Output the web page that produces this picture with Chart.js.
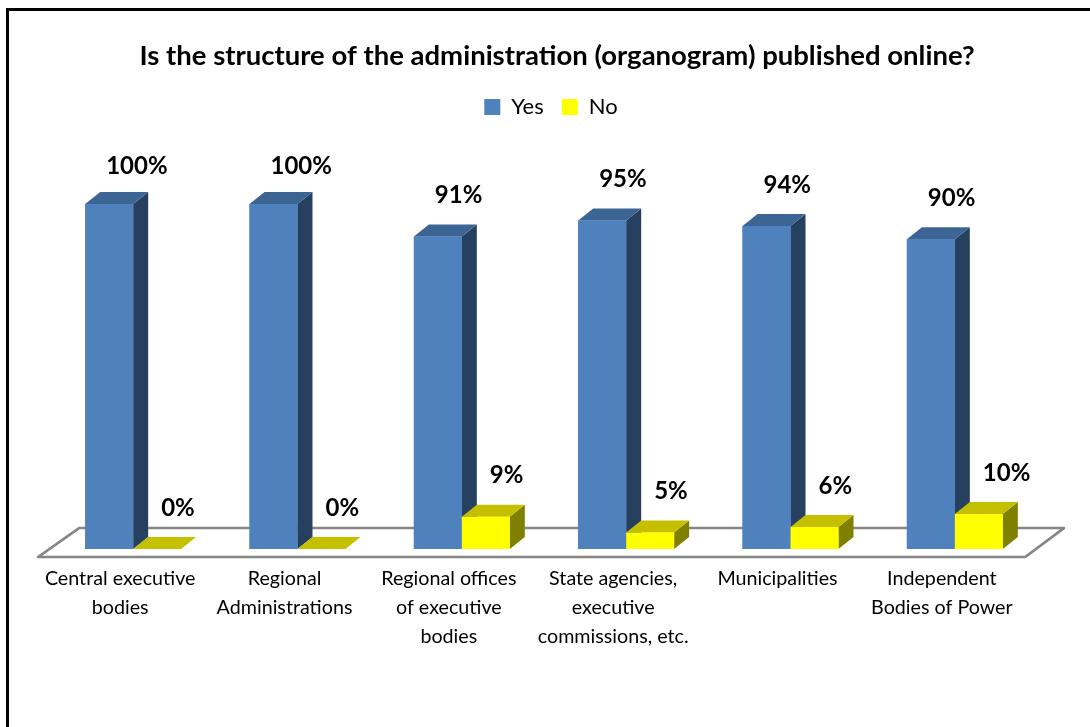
<!DOCTYPE html>
<html>
<head>
<meta charset="utf-8">
<title>Organogram published online</title>
<script src="https://cdn.jsdelivr.net/npm/chart.js@4"></script>
<style>
	html, body { margin: 0; padding: 0; background: #fff; }
	#frame { position: absolute; left: 6px; top: 8px; width: 1084px; height: 719px; box-sizing: border-box; border-left: 3px solid #000; border-top: 3px solid #000; }
	#chart { position: absolute; left: 0; top: 0; }
</style>
</head>
<body>
<div id="frame"></div>
<canvas id="chart" width="1090" height="727"></canvas>
<script>
const categories = [
	["Central executive", "bodies"],
	["Regional", "Administrations"],
	["Regional offices", "of executive", "bodies"],
	["State agencies,", "executive", "commissions, etc."],
	["Municipalities"],
	["Independent", "Bodies of Power"],
];
const yesValues = [100, 100, 90.6, 95.2, 93.6, 89.8];
const noValues = [0, 0, 9.4, 4.8, 6.4, 10.2];

const FONT = "Lato, Carlito, sans-serif";
const DEPTH_X = 15, DEPTH_Y = 12;

// front colour is on the dataset, these are the two shaded faces
const faces = [
	{top: "#3d6594", side: "#27405f", labelX: -3},
	{top: "#c4c000", side: "#808000", labelX: 4},
];

function poly(ctx, pts, fill) {
	ctx.beginPath();
	pts.forEach((p, i) => i ? ctx.lineTo(p[0], p[1]) : ctx.moveTo(p[0], p[1]));
	ctx.closePath();
	ctx.fillStyle = fill;
	ctx.fill();
}

const floorPlugin = {
	id: "floor",
	beforeDatasetsDraw(chart) {
		const {left, right, bottom} = chart.chartArea;
		const ctx = chart.ctx;
		ctx.save();
		ctx.beginPath();
		ctx.moveTo(left - 13, bottom + 8);
		ctx.lineTo(left + 28, bottom - 21);
		ctx.lineTo(right + 27, bottom - 21);
		ctx.lineTo(right - 12, bottom + 8);
		ctx.closePath();
		ctx.strokeStyle = "#868686";
		ctx.lineWidth = 2.5;
		ctx.lineJoin = "round";
		ctx.stroke();
		ctx.restore();
	}
};

const boxPlugin = {
	id: "box3d",
	afterDatasetsDraw(chart) {
		const ctx = chart.ctx;
		chart.data.datasets.forEach((ds, i) => {
			chart.getDatasetMeta(i).data.forEach(bar => {
				const l = bar.x - bar.width / 2, r = bar.x + bar.width / 2;
				poly(ctx, [[r, bar.y], [r + DEPTH_X, bar.y - DEPTH_Y], [r + DEPTH_X, bar.base - DEPTH_Y], [r, bar.base]], faces[i].side);
				poly(ctx, [[l, bar.y], [l + DEPTH_X, bar.y - DEPTH_Y], [r + DEPTH_X, bar.y - DEPTH_Y], [r, bar.y]], faces[i].top);
				bar.draw(ctx);
			});
		});
		// value labels sit up and right of each box
		ctx.save();
		ctx.font = "bold 24px " + FONT;
		ctx.fillStyle = "#000";
		ctx.textAlign = "left";
		ctx.textBaseline = "middle";
		chart.data.datasets.forEach((ds, i) => {
			chart.getDatasetMeta(i).data.forEach((bar, j) => {
				const lift = ds.data[j] === 100 ? 38 : 41;
				ctx.fillText(Math.round(ds.data[j]) + "%", bar.x + faces[i].labelX, bar.y - lift);
			});
		});
		ctx.restore();
	},
	afterLayout(chart) {
		// title and legend are a bit right of the plot centre in the original
		chart.titleBlock.left += 13;
		chart.titleBlock.right += 13;
		chart.legend.left += 7;
		chart.legend.right += 7;
	}
};

new Chart(document.getElementById("chart"), {
	type: "bar",
	data: {
		labels: categories,
		datasets: [
			{label: "Yes", data: yesValues, backgroundColor: "#4f81bd"},
			{label: "No", data: noValues, backgroundColor: "#ffff00"},
		],
	},
	options: {
		responsive: false,
		animation: false,
		categoryPercentage: 0.584,
		barPercentage: 1,
		layout: {padding: {left: 51, right: 53, bottom: 68}},
		scales: {
			y: {
				display: false,
				min: 0,
				max: 122,
			},
			x: {
				grid: {display: false},
				border: {display: false},
				ticks: {
					color: "#000",
					padding: 7.5,
					labelOffset: -13,
					maxRotation: 0,
					autoSkip: false,
					font: {family: FONT, size: 19.7, lineHeight: 1.47},
				},
			},
		},
		plugins: {
			title: {
				display: true,
				text: "Is the structure of the administration (organogram) published online?",
				color: "#000",
				font: {family: FONT, size: 27.5, weight: "bold", lineHeight: 1.2},
				padding: {top: 40, bottom: 5},
			},
			legend: {
				position: "top",
				labels: {
					color: "#000",
					boxWidth: 16,
					boxHeight: 16,
					padding: 18,
					font: {family: FONT, size: 22},
				},
			},
			tooltip: {enabled: false},
		},
	},
	plugins: [floorPlugin, boxPlugin],
});
</script>
</body>
</html>
